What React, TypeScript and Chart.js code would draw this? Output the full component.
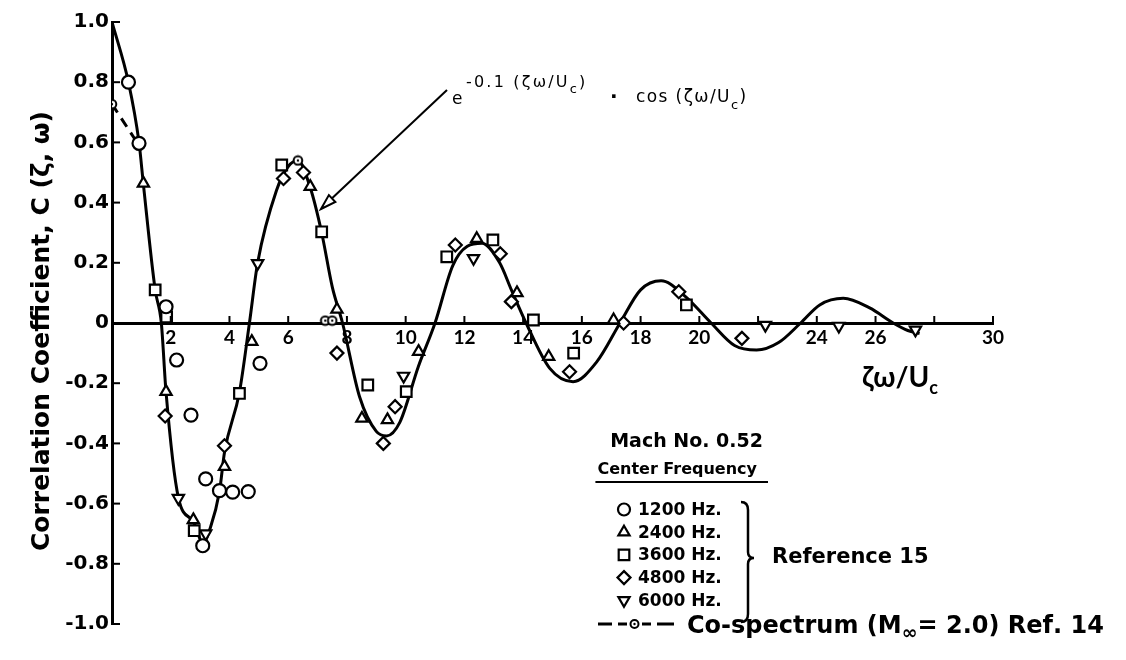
import React, { useEffect, useRef } from 'react';
import { Chart, registerables } from 'chart.js';

Chart.register(...registerables);

// ---- Data ----
// Solid curve: e^{-0.1 x} cos(x) as drawn
const curveX = [0, 0.56, 0.92, 1.07, 1.47, 1.68, 1.84, 2.26, 2.77, 3.1, 3.35, 3.66, 3.83, 4.34, 4.68, 4.96, 5.6, 6.0, 6.33, 6.75, 7.14, 7.5, 7.85, 8.43, 9.0, 9.35, 9.8, 10.43, 11.0, 11.6, 12.1, 12.6, 13.2, 13.6, 14.1, 14.9, 15.7, 16.5, 17.3, 18.0, 18.7, 19.5, 20.4, 21.2, 21.95, 22.7, 23.45, 24.1, 24.9, 25.8, 26.6, 27.1, 27.5];
const curveY = [1.0, 0.8, 0.6, 0.46, 0.11, 0.0, -0.23, -0.58, -0.66, -0.73, -0.68, -0.56, -0.43, -0.23, 0.0, 0.2, 0.44, 0.52, 0.54, 0.45, 0.3, 0.12, 0.0, -0.245, -0.36, -0.375, -0.33, -0.145, 0.0, 0.19, 0.255, 0.265, 0.2, 0.11, 0.0, -0.15, -0.195, -0.13, 0.0, 0.11, 0.14, 0.09, 0.0, -0.075, -0.09, -0.065, 0.0, 0.06, 0.082, 0.05, 0.0, -0.025, -0.035];

const hz1200X = [0.56, 0.92, 1.84, 2.2, 2.69, 3.19, 3.09, 3.66, 4.11, 4.64, 5.04];
const hz1200Y = [0.8, 0.597, 0.054, -0.123, -0.306, -0.518, -0.74, -0.557, -0.562, -0.56, -0.134];

const hz2400X = [1.07, 1.84, 2.77, 3.83, 4.76, 6.75, 7.66, 8.51, 9.38, 10.44, 12.42, 13.79, 14.87, 17.08];
const hz2400Y = [0.464, -0.228, -0.654, -0.477, -0.062, 0.453, 0.045, -0.317, -0.322, -0.095, 0.28, 0.1, -0.112, 0.01];

const hz3600X = [1.47, 1.86, 2.8, 4.34, 5.78, 7.14, 8.71, 10.02, 11.4, 12.97, 14.35, 15.72, 19.56];
const hz3600Y = [0.11, 0.02, -0.69, -0.234, 0.525, 0.303, -0.206, -0.228, 0.22, 0.276, 0.01, -0.1, 0.06];

const hz4800X = [1.81, 3.83, 5.84, 6.52, 7.66, 9.24, 9.64, 11.69, 13.22, 13.6, 15.58, 17.42, 19.3, 21.45];
const hz4800Y = [-0.309, -0.408, 0.48, 0.5, -0.1, -0.4, -0.278, 0.259, 0.23, 0.071, -0.162, 0.0, 0.104, -0.051];

const hz6000X = [2.26, 3.19, 4.96, 9.93, 12.31, 22.25, 24.75, 27.36];
const hz6000Y = [-0.582, -0.7, 0.198, -0.176, 0.215, -0.007, -0.01, -0.023];

// Co-spectrum (M = 2.0) Ref. 14
const coLineX = [0, 0.92];
const coLineY = [0.727, 0.59];
const coPtsX = [6.33, 7.26, 7.5];
const coPtsY = [0.54, 0.008, 0.008];

// Axis ticks
const xTickLabels = ['', '2', '4', '6', '8', '10', '12', '14', '16', '18', '20', '', '24', '26', '', '30'];
const yTickLabels = ['-1.0', '-0.8', '-0.6', '-0.4', '-0.2', '0', '0.2', '0.4', '0.6', '0.8', '1.0'];

const legendLabels = ['1200 Hz.', '2400 Hz.', '3600 Hz.', '4800 Hz.', '6000 Hz.'];

const pts = (xs: number[], ys: number[]) => xs.map((x, i) => ({ x, y: ys[i] }));

const FONT = 'Lato, "DejaVu Sans", sans-serif';
const WIDE = '"DejaVu Sans", sans-serif';

function drawShape(ctx: CanvasRenderingContext2D, kind: string, x: number, y: number, r: number) {
  ctx.beginPath();
  if (kind === 'circle') {
    ctx.arc(x, y, r, 0, Math.PI * 2);
  } else if (kind === 'triangle' || kind === 'itriangle') {
    const s = kind === 'triangle' ? 1 : -1;
    ctx.moveTo(x, y - s * r);
    ctx.lineTo(x + r * 0.866, y + s * r * 0.5);
    ctx.lineTo(x - r * 0.866, y + s * r * 0.5);
    ctx.closePath();
  } else if (kind === 'rect') {
    const h = r * Math.SQRT1_2;
    ctx.rect(x - h, y - h, 2 * h, 2 * h);
  } else if (kind === 'diamond') {
    ctx.moveTo(x - r, y);
    ctx.lineTo(x, y - r);
    ctx.lineTo(x + r, y);
    ctx.lineTo(x, y + r);
    ctx.closePath();
  }
  ctx.fillStyle = '#fff';
  ctx.fill();
  ctx.stroke();
}

function textRun(ctx: CanvasRenderingContext2D, parts: Array<[string, string, number]>, x: number, y: number, spacing = 0) {
  // parts: [text, font, yOffset]
  let cx = x;
  for (const [t, f, dy] of parts) {
    ctx.font = f;
    for (const ch of t) {
      ctx.fillText(ch, cx, y + dy);
      cx += ctx.measureText(ch).width + spacing;
    }
  }
  return cx;
}

const overlayPlugin = {
  id: 'overlay',
  beforeDraw(chart: any) {
    const ctx = chart.ctx;
    ctx.save();
    ctx.fillStyle = '#fff';
    ctx.fillRect(0, 0, chart.width, chart.height);
    ctx.restore();
  },
  afterDraw(chart: any) {
    const ctx: CanvasRenderingContext2D = chart.ctx;
    const xs = chart.scales.x;
    const ys = chart.scales.y;
    const x0 = xs.getPixelForValue(0);
    const y0 = ys.getPixelForValue(0);
    ctx.save();
    ctx.strokeStyle = '#000';
    ctx.fillStyle = '#000';
    ctx.lineWidth = 2;
    // x tick marks (upward)
    xs.ticks.forEach((t: any) => {
      if (Math.abs(t.value) < 1e-9) return;
      const px = xs.getPixelForValue(t.value);
      ctx.beginPath();
      ctx.moveTo(px, y0);
      ctx.lineTo(px, y0 - 7);
      ctx.stroke();
    });
    // y tick marks (inward)
    ys.ticks.forEach((t: any) => {
      const py = ys.getPixelForValue(t.value);
      ctx.beginPath();
      ctx.moveTo(x0, py);
      ctx.lineTo(x0 + 8, py);
      ctx.stroke();
    });

    // y axis title
    ctx.save();
    ctx.translate(42, 331);
    ctx.rotate(-Math.PI / 2);
    ctx.textAlign = 'center';
    ctx.textBaseline = 'middle';
    ctx.font = `bold 25px ${WIDE}`;
    ctx.fillText('Correlation Coefficient, C (ζ, ω)', 0, 0);
    ctx.restore();

    // x axis title
    ctx.textBaseline = 'alphabetic';
    ctx.textAlign = 'left';
    textRun(ctx, [
      ['ζω/U', `bold 28px ${FONT}`, 0],
      ['c', `bold 18px ${FONT}`, 7],
    ], 862, 387);

    // formula annotation
    textRun(ctx, [['e', `17px ${WIDE}`, 0]], 452, 104);
    textRun(ctx, [
      ['-0.1 (ζω/U', `16px ${WIDE}`, 0],
      ['c', `13px ${WIDE}`, 6],
      [')', `16px ${WIDE}`, 0],
    ], 466, 87, 2.2);
    textRun(ctx, [['·', `bold 20px ${WIDE}`, 0]], 610, 103);
    textRun(ctx, [
      ['cos (ζω/U', `17px ${WIDE}`, 0],
      ['c', `13px ${WIDE}`, 7],
      [')', `17px ${WIDE}`, 0],
    ], 636, 102, 1.4);

    // arrow
    ctx.lineWidth = 2;
    ctx.beginPath();
    ctx.moveTo(447, 90);
    ctx.lineTo(327, 203);
    ctx.stroke();
    const tipX = 321, tipY = 209;
    const ang = Math.atan2(90 - tipY, 447 - tipX);
    const len = 16, spread = 0.3;
    ctx.beginPath();
    ctx.moveTo(tipX, tipY);
    ctx.lineTo(tipX + len * Math.cos(ang + spread), tipY + len * Math.sin(ang + spread));
    ctx.lineTo(tipX + len * Math.cos(ang - spread), tipY + len * Math.sin(ang - spread));
    ctx.closePath();
    ctx.fillStyle = '#fff';
    ctx.fill();
    ctx.stroke();
    ctx.fillStyle = '#000';

    // legend block
    ctx.textAlign = 'right';
    ctx.textBaseline = 'middle';
    ctx.font = `bold 19px ${WIDE}`;
    ctx.fillText('Mach No. 0.52', 763, 442);
    ctx.font = `bold 16px ${WIDE}`;
    ctx.fillText('Center Frequency', 757, 470);
    const cfw = ctx.measureText('Center Frequency').width;
    ctx.lineWidth = 2;
    ctx.beginPath();
    ctx.moveTo(757 - cfw - 2, 482);
    ctx.lineTo(768, 482);
    ctx.stroke();

    const kinds = ['circle', 'triangle', 'rect', 'diamond', 'itriangle'];
    const radii = [6, 6.5, 7.5, 6.5, 6.5];
    ctx.textAlign = 'left';
    legendLabels.forEach((lab, i) => {
      const ry = 509.5 + i * 22.7;
      ctx.lineWidth = 2.2;
      ctx.strokeStyle = '#000';
      drawShape(ctx, kinds[i], 624, ry, radii[i]);
      ctx.fillStyle = '#000';
      ctx.font = `bold 17px ${WIDE}`;
      ctx.fillText(lab, 638, ry + 1);
    });

    // brace
    ctx.lineWidth = 2.5;
    ctx.beginPath();
    const bx = 746, bt = 502, bb = 622, bm = 558;
    ctx.moveTo(bx - 5, bt);
    ctx.quadraticCurveTo(bx + 2, bt, bx + 2, bt + 8);
    ctx.lineTo(bx + 2, bm - 6);
    ctx.quadraticCurveTo(bx + 2, bm, bx + 8, bm);
    ctx.quadraticCurveTo(bx + 2, bm, bx + 2, bm + 6);
    ctx.lineTo(bx + 2, bb - 8);
    ctx.quadraticCurveTo(bx + 2, bb, bx - 5, bb);
    ctx.stroke();

    ctx.font = `bold 21px ${WIDE}`;
    ctx.fillText('Reference 15', 772, 558);

    // co-spectrum legend row
    const cy = 624;
    ctx.lineWidth = 3;
    ctx.beginPath();
    ctx.moveTo(598, cy); ctx.lineTo(612, cy);
    ctx.moveTo(618, cy); ctx.lineTo(627, cy);
    ctx.moveTo(642, cy); ctx.lineTo(651, cy);
    ctx.moveTo(657, cy); ctx.lineTo(674, cy);
    ctx.stroke();
    ctx.lineWidth = 2;
    drawShape(ctx, 'circle', 634.5, cy, 4);
    ctx.fillStyle = '#000';
    ctx.beginPath();
    ctx.arc(634.5, cy, 1.2, 0, Math.PI * 2);
    ctx.fill();
    ctx.textBaseline = 'alphabetic';
    textRun(ctx, [
      ['Co-spectrum (M', `bold 24px ${WIDE}`, 0],
      ['∞', `bold 19px ${WIDE}`, 6],
      ['= 2.0) Ref. 14', `bold 24px ${WIDE}`, 0],
    ], 687, cy + 9);
    ctx.restore();
  },
};

export default function App() {
  const ref = useRef<HTMLCanvasElement | null>(null);

  useEffect(() => {
    const canvas = ref.current;
    if (!canvas) return;

    const mk = document.createElement('canvas');
    mk.width = 12;
    mk.height = 12;
    const g = mk.getContext('2d')!;
    g.beginPath();
    g.arc(6, 6, 4.3, 0, Math.PI * 2);
    g.fillStyle = '#fff';
    g.fill();
    g.lineWidth = 2;
    g.strokeStyle = '#000';
    g.stroke();
    g.beginPath();
    g.arc(6, 6, 1.2, 0, Math.PI * 2);
    g.fillStyle = '#000';
    g.fill();

    const marker = (data: any[], style: string, radius: number, rotation = 0) => ({
      type: 'scatter' as const,
      data,
      showLine: false,
      pointStyle: style,
      pointRadius: radius,
      pointRotation: rotation,
      pointBackgroundColor: '#fff',
      pointBorderColor: '#000',
      pointBorderWidth: 2.2,
      order: 0,
    });

    const chart = new Chart(canvas, {
      type: 'scatter',
      data: {
        datasets: [
          marker(pts(hz1200X, hz1200Y), 'circle', 6.5),
          marker(pts(hz2400X, hz2400Y), 'triangle', 6.5),
          marker(pts(hz3600X, hz3600Y), 'rect', 7.5),
          marker(pts(hz4800X, hz4800Y), 'rectRot', 6.5),
          marker(pts(hz6000X, hz6000Y), 'triangle', 6.5, 180),
          {
            type: 'scatter',
            data: pts(coPtsX, coPtsY),
            showLine: false,
            pointStyle: mk as any,
            order: 1,
          } as any,
          {
            type: 'scatter',
            data: pts(coLineX, coLineY),
            showLine: true,
            borderColor: '#000',
            borderWidth: 3,
            borderDash: [10, 7],
            pointStyle: mk as any,
            order: 1,
          } as any,
          {
            type: 'scatter',
            data: pts(curveX, curveY),
            showLine: true,
            borderColor: '#000',
            borderWidth: 3,
            pointRadius: 0,
            cubicInterpolationMode: 'monotone',
            order: 10,
          } as any,
        ],
      },
      options: {
        animation: false,
        responsive: false,
        devicePixelRatio: 1,
        layout: { padding: { left: 0, top: 22, right: 133, bottom: 36 } },
        plugins: { legend: { display: false }, tooltip: { enabled: false } },
        scales: {
          x: {
            type: 'linear',
            position: { y: 0 } as any,
            min: 0,
            max: 30,
            ticks: {
              stepSize: 2,
              color: '#000',
              font: { family: FONT, size: 19, weight: 'bold' },
              callback: (v: any, i: number) => xTickLabels[i] ?? '',
              maxRotation: 0,
              autoSkip: false,
            },
            grid: { display: true, drawOnChartArea: false, drawTicks: false },
            border: { display: true, color: '#000', width: 3 },
            afterFit: (s: any) => {
              s.height = 0;
            },
          },
          y: {
            type: 'linear',
            position: 'left',
            min: -1,
            max: 1,
            ticks: {
              stepSize: 0.2,
              color: '#000',
              padding: 3,
              font: { family: WIDE, size: 20, weight: 'bold' },
              callback: (v: any, i: number) => yTickLabels[i] ?? '',
            },
            grid: { display: true, drawOnChartArea: false, drawTicks: false },
            border: { display: true, color: '#000', width: 3 },
            title: { display: false },
            afterFit: (s: any) => {
              s.width = 112;
            },
          },
        },
      } as any,
      plugins: [overlayPlugin],
    });
    return () => chart.destroy();
  }, []);

  return (
    <div style={{ position: 'absolute', left: 0, top: 0, width: 1126, height: 660, background: '#fff' }}>
      <canvas ref={ref} width={1126} height={660} style={{ display: 'block' }} />
    </div>
  );
}
